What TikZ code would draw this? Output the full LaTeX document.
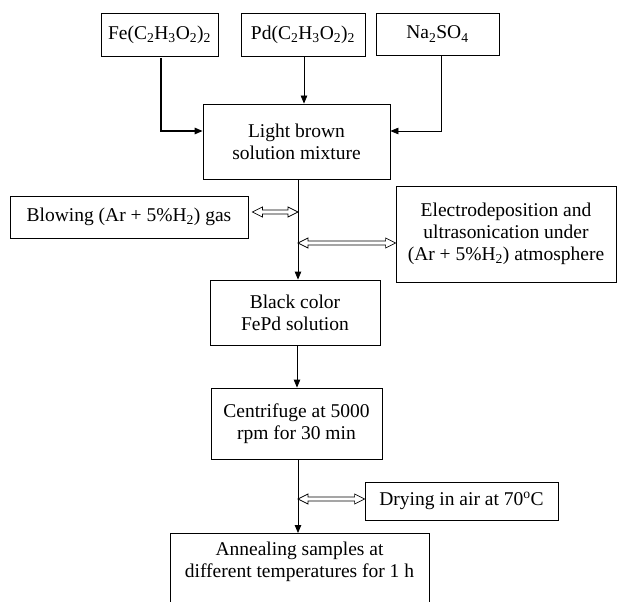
\documentclass[tikz,border=0pt]{standalone}
\usepackage{fontspec}
\setmainfont{Liberation Serif}
\usetikzlibrary{arrows.meta,calc}

\begin{document}
\begin{tikzpicture}[x=1pt, y=-1pt,
    box/.style={draw, line width=0.8pt, align=center, inner sep=2pt, font=\fontsize{19.5}{22}\selectfont},
    arr/.style={-{Triangle[length=8pt,width=6.5pt]}, line width=0.8pt},
    darr/.style={line width=0.7pt, line join=miter,
        to path={let \p1=(\tikztostart), \p2=(\tikztotarget) in
            (\x1,\y1) -- (\x1+10pt,\y1+5pt) -- (\x1+10pt,\y1+2pt) -- (\x2-10pt,\y1+2pt)
            -- (\x2-10pt,\y1+5pt) -- (\x2,\y1) -- (\x2-10pt,\y1-5pt) -- (\x2-10pt,\y1-2pt)
            -- (\x1+10pt,\y1-2pt) -- (\x1+10pt,\y1-5pt) -- cycle}}
]
\useasboundingbox (0,0) rectangle (625,602);

\node[box, minimum width=117pt, minimum height=43pt] (F) at (159.5,34.5) {Fe(C\textsubscript{2}H\textsubscript{3}O\textsubscript{2})\textsubscript{2}};
\node[box, minimum width=124pt, minimum height=43pt] (P) at (303,34.5) {Pd(C\textsubscript{2}H\textsubscript{3}O\textsubscript{2})\textsubscript{2}};
\node[box, minimum width=123pt, minimum height=42pt] (N) at (437.5,34) {Na\textsubscript{2}SO\textsubscript{4}};
\node[box, minimum width=187pt, minimum height=75pt] (M) at (296.5,141.5) {Light brown\\solution mixture};
\node[box, minimum width=238pt, minimum height=42pt] (G) at (129,217) {Blowing (Ar + 5\%H\textsubscript{2}) gas};
\node[box, minimum width=220pt, minimum height=96pt] (E) at (506,234) {Electrodeposition and\\ultrasonication under\\(Ar + 5\%H\textsubscript{2}) atmosphere};
\node[box, minimum width=170pt, minimum height=65pt] (B) at (295,312.5) {Black color\\FePd solution};
\node[box, minimum width=171pt, minimum height=71pt] (C) at (296.5,423.5) {Centrifuge at 5000\\rpm for 30 min};
\node[box, minimum width=193pt, minimum height=38pt] (D) at (461.5,501) {Drying in air at 70\textsuperscript{o}C};
\node[box, minimum width=259pt, anchor=north, inner ysep=9pt, text depth=40pt] (A) at (299.5,533) {Annealing samples at\\different temperatures for 1 h};

% points on the main line
\coordinate (g1) at (298,212);
\coordinate (e1) at (298,243);
\coordinate (d1) at (298,499);

\draw[arr, line width=1.3pt] ([yshift=-2pt]F.south -| 161,0) |- ([yshift=10.5pt]M.west);
\draw[arr] (P.south -| 304,0) -- (M.north -| 304,0);
\draw[arr] (N.south -| 441,0) |- ([yshift=10.5pt]M.east);
\draw[arr] (M.south -| 298,0) -- (B.north -| 298,0);
\draw[arr] (B.south -| 297,0) -- (C.north -| 297,0);
\draw[arr] (C.south -| 298,0) -- (A.north -| 298,0);

\draw[darr] ([xshift=4pt]G.east |- g1) to (g1);
\draw[darr] (e1) to (E.west |- e1);
\draw[darr] (d1) to (D.west |- d1);
\end{tikzpicture}
\end{document}
